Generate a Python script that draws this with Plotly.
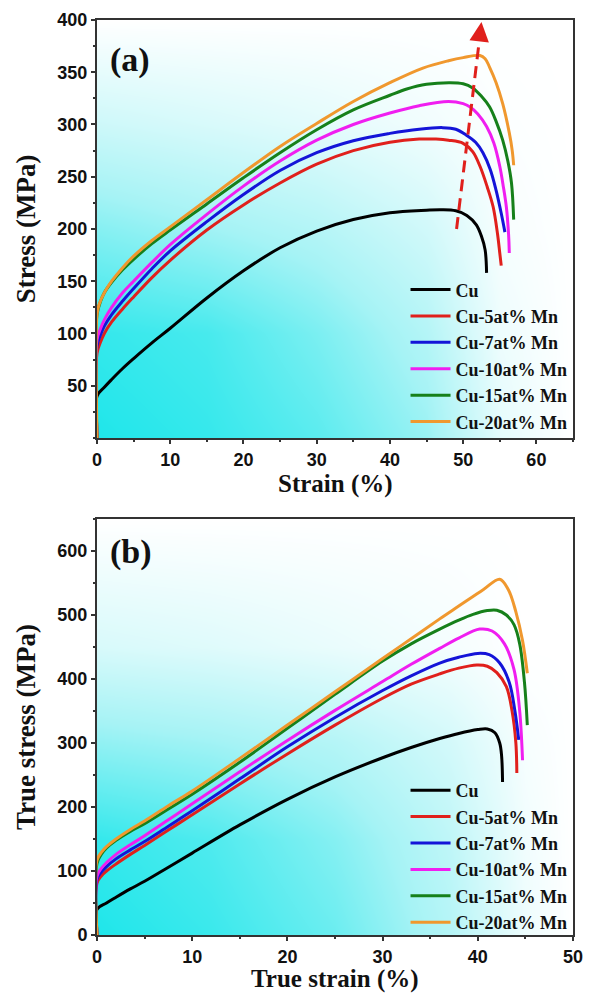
import plotly.graph_objects as go

# ---------------- data: engineering stress-strain (a) ----------------
series_names = ["Cu", "Cu-5at% Mn", "Cu-7at% Mn", "Cu-10at% Mn", "Cu-15at% Mn", "Cu-20at% Mn"]
series_colors = ["#000000", "#e0201c", "#1414d8", "#f01ef0", "#16801a", "#f0982e"]

cu_strain = [0, 0, 1, 2, 3.5, 5, 7.5, 10, 15, 20, 25, 30, 35, 40, 45, 47, 49, 50.5, 51.8, 52.5, 53, 53.2]
cu_stress = [0, 40, 48.5, 56, 66.5, 76, 91, 105, 134, 160, 182, 198, 209, 215.5, 218, 218.5, 217.5, 213, 204, 193, 180, 158]

mn5_strain = [0, 0, 0.5, 1, 2, 3.5, 5, 7.5, 10, 15, 20, 25, 30, 35, 40, 44, 46.3, 48, 50, 51.3, 52.3, 53.3, 54.1, 54.7, 55.0, 55.2]
mn5_stress = [0, 81, 92, 100, 111, 123.5, 135, 153.5, 170, 199, 223, 244, 262, 275, 283, 286, 286, 285, 282, 274, 260, 240, 221, 195, 177, 165]

mn7_strain = [0, 0, 0.5, 1, 2, 3.5, 5, 7.5, 10, 15, 20, 25, 30, 35, 40, 44, 47.2, 49, 50.4, 51.7, 52.7, 53.7, 54.5, 55.2, 55.7]
mn7_stress = [0, 88, 99, 107, 118, 131, 143, 162, 179, 207, 233, 256, 273, 284.5, 291.5, 295.5, 297, 295.5, 290, 283, 273, 257, 237, 215, 197]

mn10_strain = [0, 0, 0.5, 1, 2, 3.5, 5, 7.5, 10, 15, 20, 25, 30, 35, 40, 44, 48, 50, 50.9, 52, 53.2, 54.2, 55, 55.5, 55.9, 56.2, 56.3]
mn10_stress = [0, 94, 105, 113, 125, 139, 150, 168, 185, 214, 241, 265, 285, 300, 311, 318, 322, 320, 317, 310, 298, 282, 260, 240, 221, 195, 177]

mn15_strain = [0, 0, 0.5, 1, 2, 3.5, 5, 7.5, 10, 15, 20, 25, 30, 35, 40, 42.3, 45, 48.2, 50, 51.3, 52.5, 53.6, 54.5, 55.4, 56.1, 56.6, 56.9]
mn15_stress = [0, 118, 131, 139, 149, 161, 171, 186, 199, 224, 249, 273, 295, 314, 328, 334, 338.5, 340, 339, 335, 327, 317, 303, 285, 265, 244, 209]

mn20_strain = [0, 0, 0.3, 1, 2, 3.5, 5, 7.5, 10, 15, 20, 25, 30, 35, 40, 44.5, 48, 50, 52.3, 53, 53.6, 54.5, 55.4, 56.3, 56.7, 56.9]
mn20_stress = [0, 118, 128, 139, 150, 163, 174, 189, 202, 228, 254, 279, 301, 322, 340, 354, 361, 364, 366, 363, 355, 340, 320, 292, 275, 261]

eng_strain = [cu_strain, mn5_strain, mn7_strain, mn10_strain, mn15_strain, mn20_strain]
eng_stress = [cu_stress, mn5_stress, mn7_stress, mn10_stress, mn15_stress, mn20_stress]

# trend arrow in (a)
trend_x = [49.1, 52.2]
trend_y = [200, 380]
trend_head = (52.5, 398)

# ---------------- data: true stress-strain (b) ----------------
t_cu_strain = [0, 0, 1, 2, 3.5, 5, 7.5, 10, 15, 20, 25, 30, 33, 36, 38, 40, 41, 41.8, 42.3, 42.5, 42.6]
t_cu_stress = [0, 40, 50, 59, 72, 84, 106, 128, 172, 212, 247, 277, 293, 307, 315, 321, 322, 316, 300, 280, 239]

t_mn5_strain = [0, 0, 0.5, 1, 2, 3.5, 5, 7.5, 10, 15, 20, 25, 30, 33, 36, 38, 39.9, 41, 42, 43, 43.6, 44.0, 44.1]
t_mn5_stress = [0, 81, 93, 100, 111, 126, 140, 164, 188, 236, 283, 328, 370, 392, 408, 417, 422, 420, 410, 388, 350, 300, 253]

t_mn7_strain = [0, 0, 0.5, 1, 2, 3.5, 5, 7.5, 10, 15, 20, 25, 30, 33, 36, 38, 40, 41.2, 42.3, 43.3, 43.9, 44.3]
t_mn7_stress = [0, 87, 99, 107, 119, 133, 146, 170, 194, 244, 294, 340, 382, 405, 425, 434, 440, 438, 425, 395, 350, 305]

t_mn10_strain = [0, 0, 0.5, 1, 2, 3.5, 5, 7.5, 10, 15, 20, 25, 30, 33, 36, 38, 40.2, 41.5, 42.8, 43.8, 44.4, 44.7]
t_mn10_stress = [0, 92, 105, 113, 126, 141, 155, 180, 205, 255, 304, 351, 396, 423, 448, 464, 478, 475, 455, 415, 350, 273]

t_mn15_strain = [0, 0, 0.5, 1, 2, 3.5, 5, 7.5, 10, 15, 20, 25, 30, 33, 36, 38, 39.5, 41, 42, 43, 43.8, 44.4, 44.9, 45.2]
t_mn15_stress = [0, 112, 127, 136, 148, 162, 174, 197, 220, 270, 323, 376, 428, 455, 478, 492, 501, 507, 507.5, 500, 485, 455, 395, 328]

t_mn20_strain = [0, 0, 0.5, 1, 2, 3.5, 5, 7.5, 10, 15, 20, 25, 30, 33, 36, 38, 40.6, 42.3, 43.2, 44.0, 44.7, 45.2]
t_mn20_stress = [0, 117, 130, 138, 150, 165, 178, 202, 225, 276, 328, 380, 432, 463, 494, 514, 540, 556, 540, 505, 460, 409]

true_strain = [t_cu_strain, t_mn5_strain, t_mn7_strain, t_mn10_strain, t_mn15_strain, t_mn20_strain]
true_stress = [t_cu_stress, t_mn5_stress, t_mn7_stress, t_mn10_stress, t_mn15_stress, t_mn20_stress]

# ---------------- background gradient grids (style only) ----------------
bg_a_x = [0, 15, 30, 45, 55, 65]
bg_a_y = [0, 100, 200, 300, 400]
bg_a_z = [[1.0, 0.92, 0.78, 0.55, 0.15, 0.0],
          [0.92, 0.85, 0.66, 0.42, 0.10, 0.0],
          [0.62, 0.52, 0.42, 0.26, 0.05, 0.0],
          [0.28, 0.22, 0.16, 0.08, 0.02, 0.0],
          [0.0, 0.0, 0.0, 0.0, 0.0, 0.0]]
bg_b_x = [0, 12, 25, 37, 45, 50]
bg_b_y = [0, 150, 300, 450, 650]
bg_b_z = [[1.0, 0.9, 0.72, 0.42, 0.10, 0.0],
          [0.92, 0.82, 0.62, 0.36, 0.08, 0.0],
          [0.58, 0.52, 0.42, 0.25, 0.05, 0.0],
          [0.22, 0.18, 0.12, 0.06, 0.0, 0.0],
          [0.0, 0.0, 0.0, 0.0, 0.0, 0.0]]

cyan_scale = [[0, "#ffffff"], [0.5, "#a6f3f5"], [1, "#1fe6ea"]]

SERIF = "Liberation Serif"
SANS = "Liberation Sans"

fig = go.Figure()

fig.add_trace(go.Heatmap(x=bg_a_x, y=bg_a_y, z=bg_a_z, colorscale=cyan_scale, zmin=0, zmax=1,
                         zsmooth="best", showscale=False, hoverinfo="skip", xaxis="x", yaxis="y"))
fig.add_trace(go.Heatmap(x=bg_b_x, y=bg_b_y, z=bg_b_z, colorscale=cyan_scale, zmin=0, zmax=1,
                         zsmooth="best", showscale=False, hoverinfo="skip", xaxis="x2", yaxis="y2"))

for name, color, xs, ys in zip(series_names, series_colors, eng_strain, eng_stress):
    fig.add_trace(go.Scatter(x=xs, y=ys, mode="lines", name=name,
                             line=dict(color=color, width=3, shape="spline", smoothing=1.0),
                             xaxis="x", yaxis="y", legend="legend"))

fig.add_trace(go.Scatter(x=trend_x, y=trend_y, mode="lines", showlegend=False,
                         line=dict(color="#e0201c", width=3, dash="12px,7px"), xaxis="x", yaxis="y"))

for name, color, xs, ys in zip(series_names, series_colors, true_strain, true_stress):
    fig.add_trace(go.Scatter(x=xs, y=ys, mode="lines", name=name,
                             line=dict(color=color, width=3, shape="spline", smoothing=1.0),
                             xaxis="x2", yaxis="y2", legend="legend2"))

axis_common = dict(showline=True, linecolor="#333333", linewidth=2, mirror=True,
                   ticks="outside", ticklen=4, tickwidth=2, tickcolor="#333333",
                   showgrid=False, zeroline=False, automargin=False,
                   tickfont=dict(family=SANS, size=18, color="#111111", weight="bold"))
minor_style = dict(ticks="outside", ticklen=2, tickwidth=2, tickcolor="#333333")
title_font = dict(family=SERIF, size=27, color="#111111", weight="bold")
xtitle_font = dict(family=SERIF, size=25, color="#111111", weight="bold")
legend_font = dict(family=SERIF, size=18, color="#111111", weight="bold")

fig.update_layout(
    width=589, height=994,
    margin=dict(l=97, r=16, t=20, b=59, autoexpand=False),
    paper_bgcolor="white", plot_bgcolor="white",
    xaxis=dict(axis_common, domain=[0, 1], anchor="y", range=[0, 65],
               tickvals=[0, 10, 20, 30, 40, 50, 60], minor=dict(minor_style, dtick=5)),
    yaxis=dict(axis_common, domain=[0.5432, 1.0], anchor="x", range=[0, 400],
               tickvals=[50, 100, 150, 200, 250, 300, 350, 400], minor=dict(minor_style, dtick=25),
               title=dict(text="Stress (MPa)", font=title_font, standoff=14)),
    xaxis2=dict(axis_common, domain=[0, 1], anchor="y2", range=[0, 50],
                tickvals=[0, 10, 20, 30, 40, 50], minor=dict(minor_style, dtick=5)),
    yaxis2=dict(axis_common, domain=[0, 0.4546], anchor="x2", range=[0, 650],
                tickvals=[0, 100, 200, 300, 400, 500, 600], minor=dict(minor_style, dtick=50),
                title=dict(text="True stress (MPa)", font=title_font, standoff=14)),
    legend=dict(x=0.999, y=0.557, xanchor="right", yanchor="bottom", yref="container",
                bgcolor="rgba(0,0,0,0)", font=legend_font, tracegroupgap=0, itemwidth=40),
    legend2=dict(x=0.999, y=0.0533, xanchor="right", yanchor="bottom", yref="container",
                 bgcolor="rgba(0,0,0,0)", font=legend_font, tracegroupgap=0, itemwidth=40),
    showlegend=True,
)

# x-axis titles (placed as text so they can sit at the figure's lower edge)
fig.add_annotation(x=0.5, y=0.4929, xref="x domain", yref="paper", text="Strain (%)",
                   showarrow=False, xanchor="center", yanchor="middle", font=xtitle_font)
fig.add_annotation(x=0.5, y=-0.0481, xref="x2 domain", yref="paper", text="True strain (%)",
                   showarrow=False, xanchor="center", yanchor="middle", font=xtitle_font)

fig.add_annotation(x=trend_head[0], y=trend_head[1], ax=trend_x[1], ay=trend_y[1],
                   xref="x", yref="y", axref="x", ayref="y", text="", showarrow=True,
                   arrowhead=2, arrowsize=1.3, arrowwidth=3, arrowcolor="#e0201c")

fig.add_annotation(x=0.023, y=0.904, xref="x domain", yref="y domain", text="(a)",
                   showarrow=False, xanchor="left", yanchor="middle",
                   font=dict(family=SERIF, size=34, color="#111111", weight="bold"))
fig.add_annotation(x=0.023, y=0.921, xref="x2 domain", yref="y2 domain", text="(b)",
                   showarrow=False, xanchor="left", yanchor="middle",
                   font=dict(family=SERIF, size=34, color="#111111", weight="bold"))

fig.write_html("out.html", config={"displayModeBar": False},
               post_script="document.body.style.margin='0px';")
